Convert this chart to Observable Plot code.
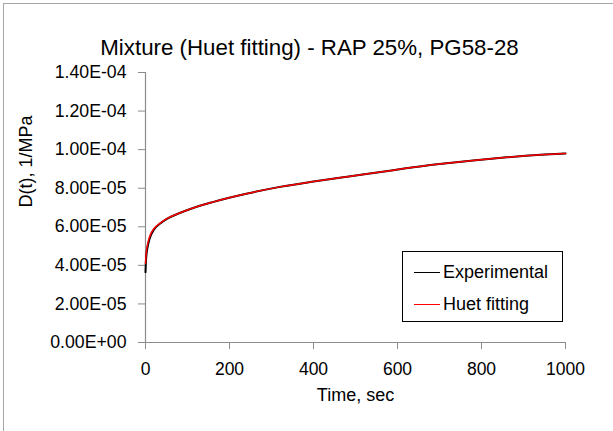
<!DOCTYPE html>
<html>
<head>
<meta charset="utf-8">
<script src="https://cdn.jsdelivr.net/npm/d3@7"></script>
<script src="https://cdn.jsdelivr.net/npm/@observablehq/plot@0.6"></script>
<style>
  html, body { margin: 0; padding: 0; background: #fff; overflow: hidden; }
  #wrap { position: relative; width: 613px; height: 431px; font-family: "Liberation Sans", Arial, sans-serif; }
  #frame { position: absolute; left: 3px; top: 3px; width: 700px; height: 600px; border: 1px solid #a6a6a6; box-sizing: border-box; }
  #chart { position: absolute; left: 0; top: 0; }
  #legend { position: absolute; left: 402px; top: 251px; width: 161px; height: 71px; border: 1px solid #000; box-sizing: border-box; background: #fff; }
  .row { position: absolute; left: 0; height: 20px; display: flex; align-items: center; font-size: 18px; color: #000; }
  .sw { display: inline-block; width: 26px; margin-left: 11px; margin-right: 3px; height: 0; border-top: 1.5px solid; }
</style>
</head>
<body>
<div id="wrap">
  <div id="frame"></div>
  <div id="chart"></div>
  <div id="legend"></div>
</div>
<script>
const title = "Mixture (Huet fitting) - RAP 25%, PG58-28";
const xLabel = "Time, sec";
const yLabel = "D(t), 1/MPa";
const seriesNames = ["Experimental", "Huet fitting"];
const seriesColors = ["#000000", "#ff0000"];

const time = [0, 1, 2, 5, 10, 20, 35, 50, 80, 110, 160, 240, 320, 400, 480, 560, 620, 700, 780, 860, 940, 1000];
const experimental = [3.65e-5, 4.2e-5, 4.5e-5, 4.95e-5, 5.4e-5, 5.85e-5, 6.17e-5, 6.4e-5, 6.7e-5, 6.95e-5, 7.28e-5, 7.71e-5, 8.07e-5, 8.35e-5, 8.6e-5, 8.84e-5, 9.03e-5, 9.25e-5, 9.44e-5, 9.6e-5, 9.73e-5, 9.8e-5];
const huet = [4.1e-5, 4.45e-5, 4.7e-5, 5.1e-5, 5.5e-5, 5.9e-5, 6.19e-5, 6.41e-5, 6.7e-5, 6.95e-5, 7.28e-5, 7.71e-5, 8.07e-5, 8.35e-5, 8.6e-5, 8.84e-5, 9.03e-5, 9.25e-5, 9.44e-5, 9.6e-5, 9.73e-5, 9.8e-5];

const xTicks = [0, 200, 400, 600, 800, 1000];
const yTicks = [0, 2e-5, 4e-5, 6e-5, 8e-5, 1e-4, 1.2e-4, 1.4e-4];

const expData = time.map((t, i) => ({t, v: experimental[i]}));
const huetData = time.map((t, i) => ({t, v: huet[i]}));

function sci(d) {
  const [m, e] = d.toExponential(2).split("e");
  const sign = e[0] === "-" ? "-" : "+";
  const digits = e.replace(/^[+-]/, "").padStart(2, "0");
  return m + "E" + sign + digits;
}

const font = "'Liberation Sans', Arial, sans-serif";
const axisGray = "#8c8c8c";

const plot = Plot.plot({
  width: 613,
  height: 431,
  marginLeft: 145,
  marginRight: 48,
  marginTop: 72,
  marginBottom: 89,
  style: {fontFamily: font, background: "transparent", overflow: "visible"},
  x: {domain: [0, 1000]},
  y: {domain: [0, 1.4e-4]},
  marks: [
    Plot.axisY({ticks: yTicks, tickFormat: sci, tickSize: 7, tickPadding: 12, fontSize: 17.7, stroke: axisGray, fill: "#000", label: null}),
    Plot.axisX({ticks: xTicks, tickFormat: d3.format("d"), tickSize: 7, tickPadding: 13, fontSize: 17.5, stroke: axisGray, fill: "#000", label: null}),
    Plot.ruleX([0], {stroke: axisGray, strokeWidth: 1.2}),
    Plot.ruleY([0], {stroke: axisGray, strokeWidth: 1.2}),
    Plot.line(expData, {x: "t", y: "v", stroke: seriesColors[0], strokeWidth: 2, curve: "monotone-x"}),
    Plot.line(huetData, {x: "t", y: "v", stroke: seriesColors[1], strokeWidth: 1.5, curve: "monotone-x"}),
    Plot.text([title], {frameAnchor: "top", dx: -46, dy: -33, fontSize: 22.3, fill: "#000"}),
    Plot.text([xLabel], {frameAnchor: "bottom", dy: 58, fontSize: 18, fill: "#000"}),
    Plot.text([yLabel], {frameAnchor: "left", dx: -119, rotate: -90, fontSize: 18, fill: "#000"})
  ]
});
document.getElementById("chart").appendChild(plot);

const legend = document.getElementById("legend");
seriesNames.forEach((name, i) => {
  const row = document.createElement("div");
  row.className = "row";
  row.style.top = (i === 0 ? 10 : 42) + "px";
  const sw = document.createElement("span");
  sw.className = "sw";
  sw.style.borderTopColor = seriesColors[i];
  const tx = document.createElement("span");
  tx.textContent = name;
  row.appendChild(sw);
  row.appendChild(tx);
  legend.appendChild(row);
});
</script>
</body>
</html>
